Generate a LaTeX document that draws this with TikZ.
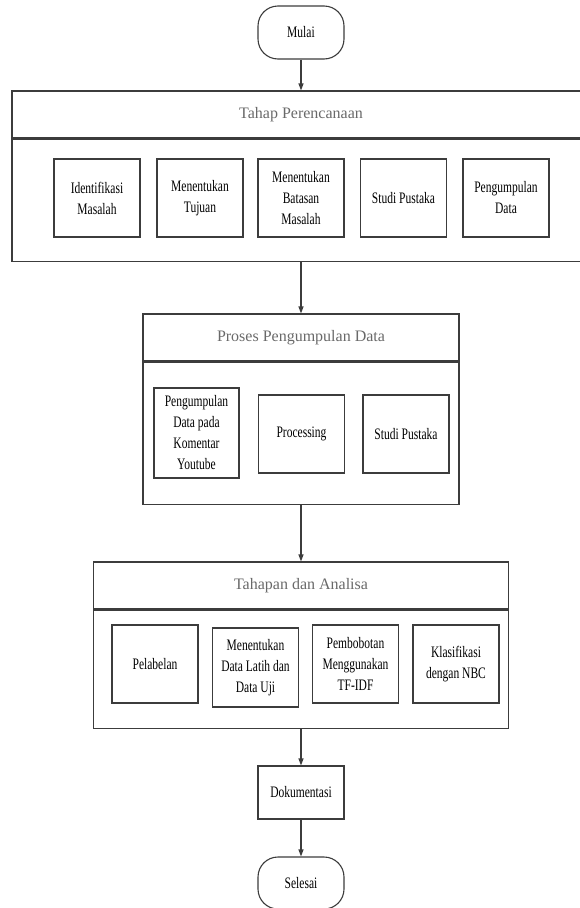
\documentclass[tikz,border=0pt]{standalone}
\usepackage{fontspec}
\setmainfont{Liberation Serif}
\newfontfamily\boxfont[FakeStretch=0.72]{Liberation Serif}
\usepackage{tikz}
\usetikzlibrary{arrows.meta, positioning}

\begin{document}
\begin{tikzpicture}[x=1pt, y=-1pt,
  box/.style={rectangle, draw=linecolor, line width=1.1pt, align=center, inner sep=2pt,
    minimum width=86pt, minimum height=78pt, font=\boxfont\fontsize{16}{21}\selectfont},
  terminal/.style={box, rounded corners=20pt, minimum height=53pt},
  header/.style={rectangle, draw=linecolor, line width=1.1pt, minimum height=47pt,
    text=headcolor, font=\fontsize{16}{19}\selectfont},
  panel/.style={rectangle, draw=linecolor, line width=1.1pt, anchor=north},
  flow/.style={draw=linecolor, line width=1.1pt, -{Triangle[length=7pt, width=5pt]}}]
  % Define colors
  \definecolor{linecolor}{RGB}{60,60,60}     % Box borders and arrows
  \definecolor{headcolor}{RGB}{105,105,105}  % Gray stage titles

  \clip (0,0) rectangle (580,908);

  % Start
  \node[terminal] (mulai) at (301,32.5) {Mulai};

  % Tahap Perencanaan
  \node[header, minimum width=578pt] (perencanaan) at (301,114.5) {Tahap Perencanaan};
  \node[panel, minimum width=578pt, minimum height=122pt] (perencanaanbody) at (perencanaan.south) {};
  \node[box] (identifikasi) at (97,198) {Identifikasi\\Masalah};
  \node[box] (tujuan) at (200,198) {Menentukan\\Tujuan};
  \node[box] (batasan) at (301,198) {Menentukan\\Batasan\\Masalah};
  \node[box] (pustaka) at (403.5,198) {Studi Pustaka};
  \node[box] (pengumpulan) at (506,198) {Pengumpulan\\Data};

  % Proses Pengumpulan Data
  \node[header, minimum width=316pt] (proses) at (301,337.5) {Proses Pengumpulan Data};
  \node[panel, minimum width=316pt, minimum height=142pt] (prosesbody) at (proses.south) {};
  \node[box, minimum width=85pt, minimum height=90pt] (komentar) at (196.5,433) {Pengumpulan\\Data pada\\Komentar\\Youtube};
  \node[box] (processing) at (301.5,434) {Processing};
  \node[box] (pustakadua) at (406,434) {Studi Pustaka};

  % Tahapan dan Analisa
  \node[header, minimum width=415pt] (tahapan) at (301,585.5) {Tahapan dan Analisa};
  \node[panel, minimum width=415pt, minimum height=118pt] (tahapanbody) at (tahapan.south) {};
  \node[box] (pelabelan) at (155,664) {Pelabelan};
  \node[box, minimum height=79pt] (latih) at (255.5,667.5) {Menentukan\\Data Latih dan\\Data Uji};
  \node[box] (pembobotan) at (355.5,664) {Pembobotan\\Menggunakan\\TF-IDF};
  \node[box] (klasifikasi) at (456,664) {Klasifikasi\\dengan NBC};

  % End
  \node[box, minimum height=53pt] (dokumentasi) at (301,792.5) {Dokumentasi};
  \node[terminal, minimum height=52pt] (selesai) at (301,883) {Selesai};

  % Arrows between stages
  \draw[flow] (mulai) -- (perencanaan);
  \draw[flow] (perencanaanbody) -- (proses);
  \draw[flow] (prosesbody) -- (tahapan);
  \draw[flow] (tahapanbody) -- (dokumentasi);
  \draw[flow] (dokumentasi) -- (selesai);
\end{tikzpicture}
\end{document}
